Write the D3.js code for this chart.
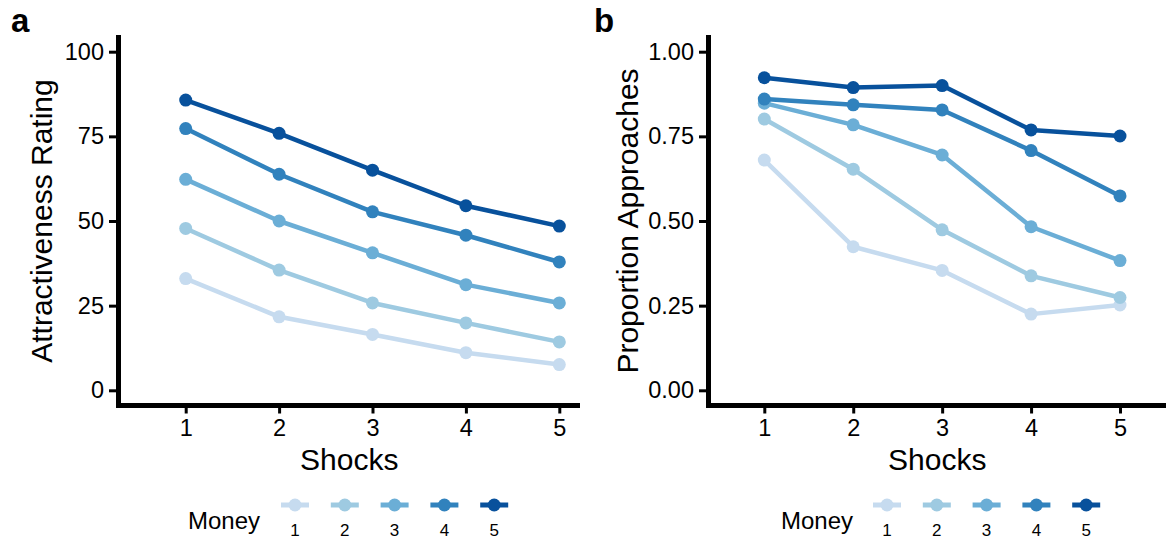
<!DOCTYPE html>
<html>
<head>
<meta charset="utf-8">
<script src="https://cdn.jsdelivr.net/npm/d3@7"></script>
<style>
  html, body { margin: 0; padding: 0; background: #fff; }
  svg { display: block; font-family: "Liberation Sans", Arial, sans-serif; }
</style>
</head>
<body>
<svg id="chart" width="1167" height="541"></svg>
<script>
// Shock levels on the x axis and money levels (one line each)
const shocks = [1, 2, 3, 4, 5];
const moneyLevels = [1, 2, 3, 4, 5];
const moneyColors = ["#c6dbef", "#9ecae1", "#6baed6", "#3182bd", "#08519c"];

// Panel a: mean attractiveness rating, one array per money level
const ratingMoney1 = [33.0, 21.7, 16.5, 11.1, 7.6];
const ratingMoney2 = [47.8, 35.5, 25.8, 19.9, 14.3];
const ratingMoney3 = [62.3, 50.0, 40.6, 31.2, 25.8];
const ratingMoney4 = [77.3, 63.8, 52.7, 45.8, 37.9];
const ratingMoney5 = [85.7, 75.9, 65.0, 54.5, 48.5];

// Panel b: proportion of approaches, one array per money level
const approachMoney1 = [0.680, 0.424, 0.354, 0.225, 0.252];
const approachMoney2 = [0.801, 0.653, 0.474, 0.338, 0.274];
const approachMoney3 = [0.848, 0.784, 0.695, 0.483, 0.383];
const approachMoney4 = [0.860, 0.843, 0.828, 0.708, 0.574];
const approachMoney5 = [0.923, 0.894, 0.900, 0.769, 0.751];

const ratingTicks = [0, 25, 50, 75, 100];
const approachTicks = [0, 0.25, 0.5, 0.75, 1.0];

const svg = d3.select("#chart");

function drawPanel(cfg) {
  const g = svg.append("g");
  const x = d3.scaleLinear().domain([1, 5]).range(cfg.xRange);
  const y = d3.scaleLinear().domain(cfg.yDomain).range([390.3, 51.7]);
  const yBottom = 405.5;
  const colour = d3.scaleOrdinal().domain(moneyLevels).range(moneyColors);

  // series lines and points
  const line = d3.line().x((d, i) => x(shocks[i])).y(d => y(d));
  cfg.series.forEach((vals, k) => {
    g.append("path")
      .attr("d", line(vals))
      .attr("fill", "none")
      .attr("stroke", colour(moneyLevels[k]))
      .attr("stroke-width", 4.5)
      .attr("stroke-linejoin", "round");
    g.selectAll(null).data(vals).enter().append("circle")
      .attr("cx", (d, i) => x(shocks[i]))
      .attr("cy", d => y(d))
      .attr("r", 6.5)
      .attr("fill", colour(moneyLevels[k]));
  });

  // y axis
  const yAxis = d3.axisLeft(y).tickValues(cfg.yTicks).tickFormat(cfg.yFormat)
    .tickSize(7).tickPadding(5);
  const ya = g.append("g").attr("transform", `translate(${cfg.axisX - 2.5},0)`).call(yAxis);
  ya.select(".domain").remove();
  ya.selectAll(".tick line").attr("stroke", "#000").attr("stroke-width", 3);
  ya.selectAll(".tick text").attr("font-size", 23.5).attr("fill", "#000")
    .attr("font-family", "Liberation Sans, Arial, sans-serif");

  // x axis
  const xAxis = d3.axisBottom(x).tickValues(shocks).tickFormat(d3.format("d"))
    .tickSize(8).tickPadding(6);
  const xa = g.append("g").attr("transform", `translate(0,${yBottom})`).call(xAxis);
  xa.select(".domain").remove();
  xa.selectAll(".tick line").attr("stroke", "#000").attr("stroke-width", 3);
  xa.selectAll(".tick text").attr("font-size", 23.5).attr("fill", "#000")
    .attr("font-family", "Liberation Sans, Arial, sans-serif");

  // axis lines
  g.append("line").attr("x1", cfg.axisX).attr("x2", cfg.axisX)
    .attr("y1", 35).attr("y2", yBottom + 2.5)
    .attr("stroke", "#000").attr("stroke-width", 5);
  g.append("line").attr("x1", cfg.axisX - 2.5).attr("x2", cfg.xEnd)
    .attr("y1", yBottom).attr("y2", yBottom)
    .attr("stroke", "#000").attr("stroke-width", 5);

  // axis titles
  g.append("text")
    .attr("x", (cfg.axisX + cfg.xEnd) / 2).attr("y", 470)
    .attr("text-anchor", "middle").attr("font-size", 30).attr("fill", "#000")
    .text("Shocks");
  g.append("text")
    .attr("transform", `translate(${cfg.yTitleX},221) rotate(-90)`)
    .attr("text-anchor", "middle").attr("font-size", 30).attr("fill", "#000")
    .text(cfg.yTitle);

  // panel tag
  g.append("text")
    .attr("x", cfg.tagX).attr("y", 32)
    .attr("font-size", 33).attr("font-weight", "bold").attr("fill", "#000")
    .text(cfg.tag);

  // legend
  const lg = g.append("g");
  lg.append("text").attr("x", cfg.legendX).attr("y", 529)
    .attr("font-size", 24).attr("fill", "#000").text("Money");
  moneyLevels.forEach((m, i) => {
    const cx = cfg.keyX + i * 49.8;
    lg.append("line").attr("x1", cx - 14).attr("x2", cx + 14)
      .attr("y1", 505).attr("y2", 505)
      .attr("stroke", colour(m)).attr("stroke-width", 5);
    lg.append("circle").attr("cx", cx).attr("cy", 505).attr("r", 6.5)
      .attr("fill", colour(m));
    lg.append("text").attr("x", cx).attr("y", 536)
      .attr("text-anchor", "middle").attr("font-size", 17).attr("fill", "#000")
      .text(m);
  });
}

drawPanel({
  tag: "a", tagX: 11,
  xRange: [185.7, 559.3], axisX: 118.5, xEnd: 580,
  yDomain: [0, 100], yTicks: ratingTicks, yFormat: d3.format("d"),
  yTitle: "Attractiveness Rating", yTitleX: 52,
  series: [ratingMoney1, ratingMoney2, ratingMoney3, ratingMoney4, ratingMoney5],
  legendX: 188, keyX: 295
});

drawPanel({
  tag: "b", tagX: 594,
  xRange: [764.3, 1120], axisX: 708.5, xEnd: 1166,
  yDomain: [0, 1], yTicks: approachTicks, yFormat: d3.format(".2f"),
  yTitle: "Proportion Approaches", yTitleX: 638,
  series: [approachMoney1, approachMoney2, approachMoney3, approachMoney4, approachMoney5],
  legendX: 781, keyX: 887
});
</script>
</body>
</html>
